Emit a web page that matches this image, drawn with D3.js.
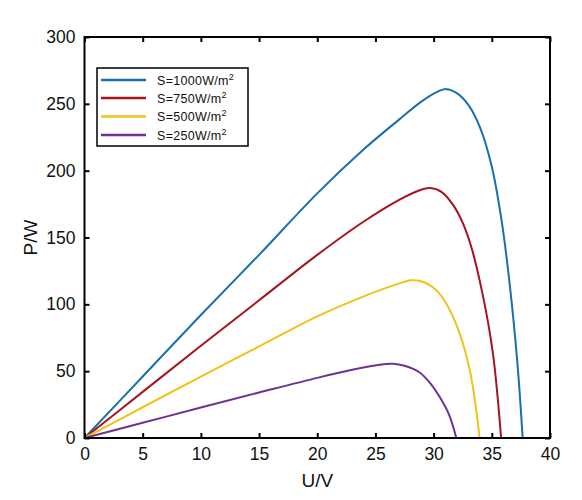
<!DOCTYPE html>
<html>
<head>
<meta charset="utf-8">
<script src="https://cdn.jsdelivr.net/npm/d3@7"></script>
<style>
body{margin:0;background:#fff;}
svg{display:block;font-family:"Liberation Sans",Arial,Helvetica,sans-serif;}
</style>
</head>
<body>
<svg id="chart" width="582" height="500"></svg>
<script>
// ---- data ----
const seriesNames = ["S=1000W/m", "S=750W/m", "S=500W/m", "S=250W/m"];
const seriesColors = ["#1a6fad", "#a5151f", "#f0c21a", "#6e3193"];
const xTicks = [0, 5, 10, 15, 20, 25, 30, 35, 40];
const yTicks = [0, 50, 100, 150, 200, 250, 300];

const s1000U = [0, 5, 10, 15, 20, 24, 27, 29, 30.3, 31.1, 32, 33, 34, 35, 35.8, 36.5, 37.2, 37.65];
const s1000P = [0, 46, 92, 137, 183, 216, 238, 252, 259, 261, 258, 249, 232, 203, 165, 118, 56, 0];

const s750U = [0, 5, 10, 15, 20, 24, 27, 28.7, 29.7, 30.7, 31.7, 32.5, 33.2, 34.2, 35.1, 35.8];
const s750P = [0, 34.5, 69, 103, 137, 162, 178, 185, 187, 184, 174, 161, 144, 108, 63, 0];

const s500U = [0, 5, 10, 15, 20, 24, 26.5, 28.1, 29.2, 30.5, 31.9, 33.1, 33.95];
const s500P = [0, 23, 46, 68.5, 91, 106, 114, 118, 116.5, 108, 86, 51, 0];

const s250U = [0, 5, 10, 15, 20, 23, 25.5, 26.5, 27.5, 28.8, 29.8, 30.5, 31.3, 31.95];
const s250P = [0, 11.4, 22.8, 34, 45, 51, 55, 55.5, 54, 49, 40, 31, 18, 0];

const seriesU = [s1000U, s750U, s500U, s250U];
const seriesP = [s1000P, s750P, s500P, s250P];

// ---- layout ----
const L = 84.5, R = 550, T = 37, B = 438;
const svg = d3.select("#chart");
const x = d3.scaleLinear().domain([0, 40]).range([L, R]);
const y = d3.scaleLinear().domain([0, 300]).range([B, T]);

// curves
const line = d3.line().x(d => x(d[0])).y(d => y(d[1])).curve(d3.curveCatmullRom.alpha(0.5));
seriesU.forEach((us, i) => {
  const pts = us.map((u, k) => [u, seriesP[i][k]]);
  svg.append("path").datum(pts)
    .attr("d", line)
    .attr("fill", "none")
    .attr("stroke", seriesColors[i])
    .attr("stroke-width", 2);
});

// axes (ticks inward on all four sides)
const tick = 5;
const fmt = d3.format("d");
svg.append("g").attr("transform", `translate(0,${B})`)
  .call(d3.axisBottom(x).tickValues(xTicks).tickSize(-tick).tickPadding(10).tickFormat(fmt))
  .call(g => g.select(".domain").remove());
svg.append("g").attr("transform", `translate(0,${T})`)
  .call(d3.axisTop(x).tickValues(xTicks).tickSize(-tick).tickFormat(""))
  .call(g => g.select(".domain").remove());
svg.append("g").attr("transform", `translate(${L},0)`)
  .call(d3.axisLeft(y).tickValues(yTicks).tickSize(-tick).tickPadding(9).tickFormat(fmt))
  .call(g => g.select(".domain").remove());
svg.append("g").attr("transform", `translate(${R},0)`)
  .call(d3.axisRight(y).tickValues(yTicks).tickSize(-tick).tickFormat(""))
  .call(g => g.select(".domain").remove());

svg.selectAll(".tick line").attr("stroke", "#000").attr("stroke-width", 2);
svg.selectAll(".tick text").attr("font-size", 17.5).attr("fill", "#111")
  .attr("font-family", "'Liberation Sans',Arial,sans-serif");

// box
svg.append("rect").attr("x", L).attr("y", T).attr("width", R - L).attr("height", B - T)
  .attr("fill", "none").attr("stroke", "#000").attr("stroke-width", 2);

// axis labels
svg.append("text").attr("x", (L + R) / 2).attr("y", 487).attr("text-anchor", "middle")
  .attr("font-size", 19).attr("fill", "#111").text("U/V");
svg.append("text").attr("transform", `translate(37,${(T + B) / 2}) rotate(-90)`)
  .attr("text-anchor", "middle").attr("font-size", 19).attr("fill", "#111").text("P/W");

// legend
const lg = svg.append("g");
lg.append("rect").attr("x", 97).attr("y", 68).attr("width", 151).attr("height", 78)
  .attr("fill", "#fff").attr("stroke", "#000").attr("stroke-width", 1.5);
const rowY = [80, 98, 116.5, 135];
seriesNames.forEach((n, i) => {
  lg.append("line").attr("x1", 101).attr("x2", 146).attr("y1", rowY[i]).attr("y2", rowY[i])
    .attr("stroke", seriesColors[i]).attr("stroke-width", 2.5);
  const t = lg.append("text").attr("x", 157).attr("y", rowY[i] + 4.5)
    .attr("font-size", 12.5).attr("letter-spacing", 0.3).attr("fill", "#111");
  t.append("tspan").text(n);
  t.append("tspan").attr("dy", -5).attr("font-size", 9).text("2");
});
</script>
</body>
</html>
